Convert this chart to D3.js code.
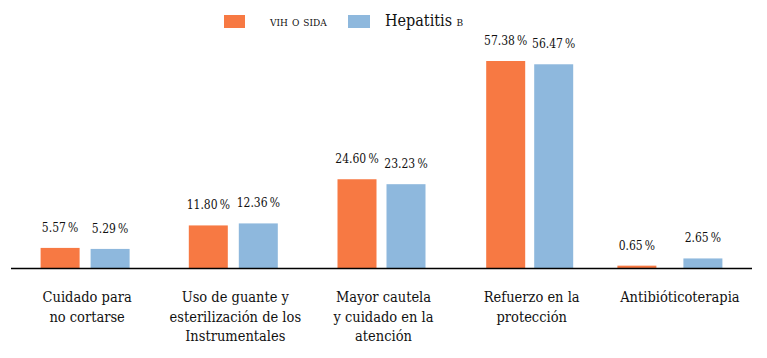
<!DOCTYPE html>
<html>
<head>
<meta charset="utf-8">
<script src="https://cdn.jsdelivr.net/npm/d3@7"></script>
<style>
body { margin: 0; background: #fff; }
svg text { font-family: "DejaVu Serif Condensed", "DejaVu Serif", serif; fill: #111; }
</style>
</head>
<body>
<svg width="767" height="358"></svg>
<script>
var categories = [
    ["Cuidado para", "no cortarse"],
    ["Uso de guante y", "esterilización de los", "Instrumentales"],
    ["Mayor cautela", "y cuidado en la", "atención"],
    ["Refuerzo en la", "protección"],
    ["Antibióticoterapia"]
]
var seriesNames = ["VIH O SIDA", "Hepatitis B"]
var vihValues = [5.57, 11.80, 24.60, 57.38, 0.65]
var hepValues = [5.29, 12.36, 23.23, 56.47, 2.65]
var colors = ["#f77943", "#8eb8dd"]

var svg = d3.select("svg")
var baseY = 268
var barW = 39

var keys = categories.map((c, i) => i)
var x0 = d3.scaleBand().domain(keys).range([11, 752])
var y = d3.scaleLinear().domain([0, 57.38]).range([baseY, 61])

// the last group has a wider gap between its two bars in the original
var gaps = [11, 11, 10, 9, 27]

var data = keys.map(i => ({ i: i, vals: [vihValues[i], hepValues[i]] }))

function barX(i, j) {
    var c = x0(i) + x0.bandwidth() / 2 + (i === 4 ? -8 : 0)
    return j === 0 ? c - gaps[i] / 2 - barW : c + gaps[i] / 2
}

var groups = svg.selectAll("g.grp").data(data).enter().append("g")
    .attr("class", "grp")

groups.selectAll("rect").data(d => d.vals.map((v, j) => ({ i: d.i, j: j, v: v }))).enter().append("rect")
    .attr("x", d => barX(d.i, d.j))
    .attr("y", d => y(d.v))
    .attr("width", barW)
    .attr("height", d => baseY - y(d.v))
    .attr("fill", d => colors[d.j])

groups.selectAll("text.val").data(d => d.vals.map((v, j) => ({ i: d.i, j: j, v: v }))).enter().append("text")
    .attr("class", "val")
    .attr("x", d => barX(d.i, d.j) + barW / 2)
    .attr("y", d => y(d.v) - 16)
    .attr("text-anchor", "middle")
    .style("font-size", "12px")
    .text(d => d.v.toFixed(2) + "\u2009%")

svg.append("line")
    .attr("x1", 11).attr("x2", 752)
    .attr("y1", baseY + 0.5).attr("y2", baseY + 0.5)
    .attr("stroke", "#000").attr("stroke-width", 1.3)

var labels = svg.selectAll("text.cat").data(categories).enter().append("text")
    .attr("class", "cat")
    .attr("text-anchor", "middle")
    .style("font-size", "14.5px")
    .attr("transform", (d, i) => "translate(" + (x0(i) + x0.bandwidth() / 2 + 2) + ",302)")

labels.selectAll("tspan").data(d => d).enter().append("tspan")
    .attr("x", 0)
    .attr("dy", (t, k) => k === 0 ? 0 : 19.5)
    .text(t => t)

// legend
var legend = svg.append("g")
legend.append("rect").attr("x", 224).attr("y", 15).attr("width", 21).attr("height", 13).attr("fill", colors[0])
legend.append("text").attr("x", 270).attr("y", 26).style("font-size", "14px")
    .style("font-variant", "small-caps").text(seriesNames[0].toLowerCase())
legend.append("rect").attr("x", 348).attr("y", 15).attr("width", 22).attr("height", 13).attr("fill", colors[1])
var hep = legend.append("text").attr("x", 385).attr("y", 26).style("font-size", "16px")
hep.append("tspan").text("Hepatitis ")
hep.append("tspan").style("font-size", "10px").text(seriesNames[1].slice(-1))
</script>
</body>
</html>
